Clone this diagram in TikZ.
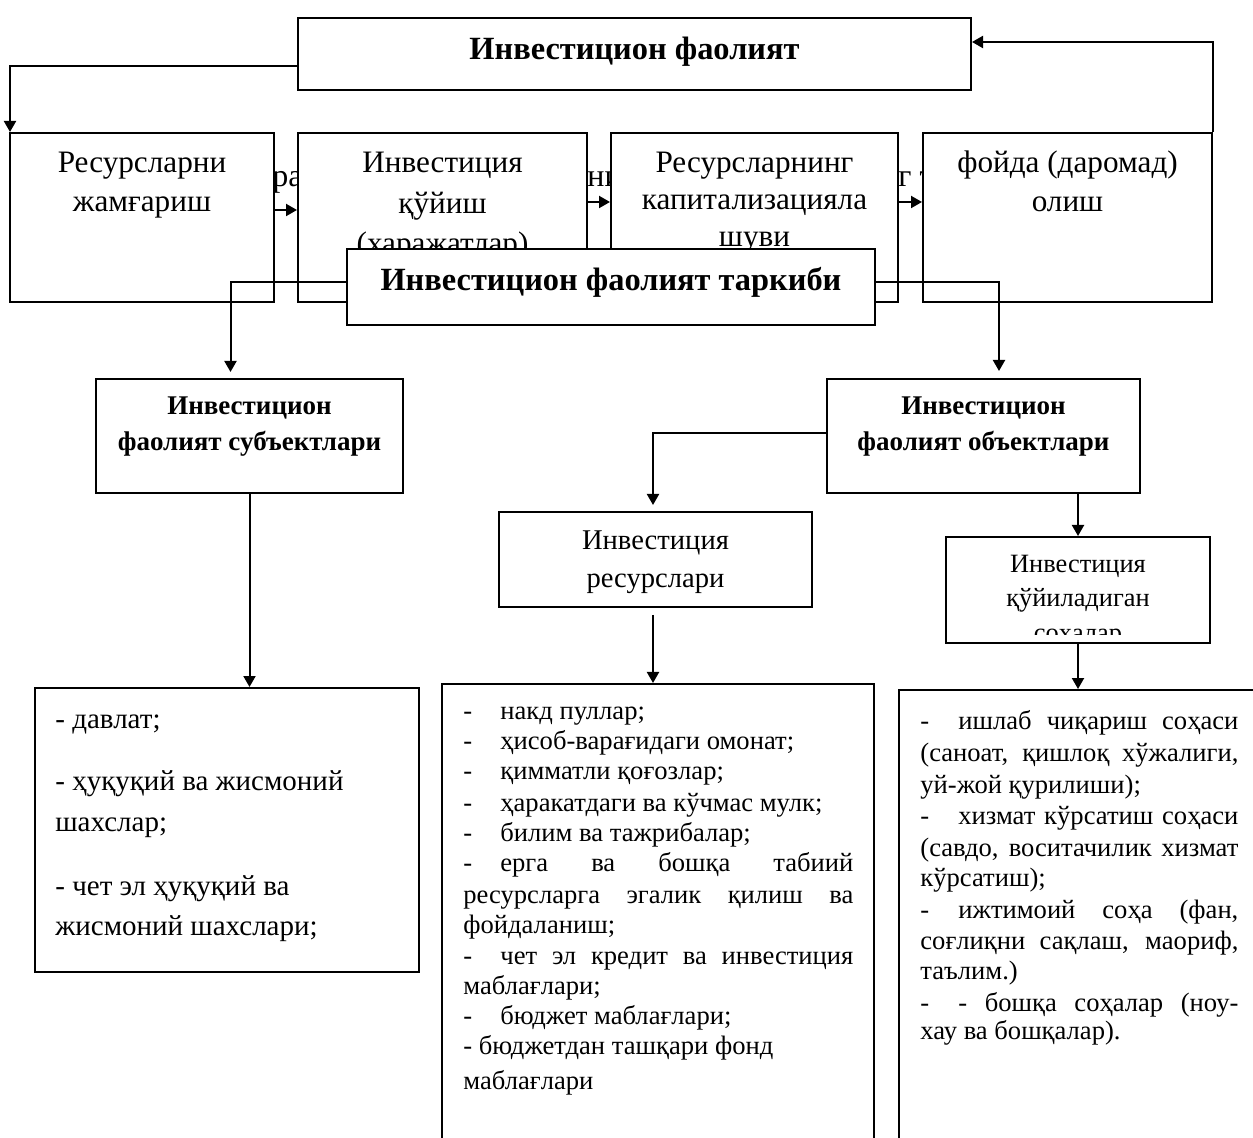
\documentclass[tikz,border=0pt]{standalone}
\usepackage{fontspec}
\setmainfont{Liberation Serif}
\usetikzlibrary{arrows.meta,fit,calc}
\newcommand\lsttabA[1]{\makebox[18.5pt][l]{-}#1}
\newcommand\lsttabB[1]{\makebox[19pt][l]{-}#1}
\begin{document}
\begin{tikzpicture}[x=0.5pt,y=-0.5pt,
  box/.style={draw, line width=1pt, fill=white, inner sep=0pt},
  arr/.style={line width=1pt, -{Triangle[length=5.5pt,width=6pt]}},
  txt/.style={align=center, anchor=base, inner sep=0pt},
  bld/.style={align=center, anchor=base, inner sep=0pt, font=\bfseries\fontsize{16.2}{19}\selectfont},
  sbld/.style={align=center, anchor=base, inner sep=0pt, font=\bfseries\fontsize{13.5}{18}\selectfont},
  lst/.style={anchor=base west, inner sep=0pt},
]
\useasboundingbox (0,0) rectangle (1253,1138);
\fill[white] (0,0) rectangle (1253,1138);
\clip (0,0) rectangle (1253,1138);

% hidden text fragments behind the row of boxes
\node[lst, font=\fontsize{16}{19}\selectfont] (f1) at (272,187) {ра};
\node[lst, font=\fontsize{16}{19}\selectfont] (f2) at (587,187) {ни};
\node[lst, font=\fontsize{16}{19}\selectfont] (f3) at (898,187) {г т};

% row of boxes
\node[box, fit={(10,133) (274,302)}] (b1) {};
\node[box, fit={(298,133) (587,302)}] (b2) {};
\node[box, fit={(611,133) (898,302)}] (b3) {};
\node[box, fit={(923,133) (1212,302)}] (b4) {};
\node[box, fit={(298,18) (971,90)}] (top) {};

% multi-line nodes are placed by the baseline of their last line
\node[bld] (topt) at (634.5,60) {Инвестицион фаолият};
\node[txt, font=\fontsize{15.6}{19.5}\selectfont] (b1t) at (142,212) {Ресурсларни\\жамғариш};
\node[txt, font=\fontsize{15.6}{20.25}\selectfont] (b2t) at (442.5,254) {Инвестиция\\қўйиш\\(харажатлар)};
\node[txt, font=\fontsize{15.6}{18.5}\selectfont] (b3t) at (754.5,247) {Ресурсларнинг\\капитализацияла\\шуви};
\node[txt, font=\fontsize{15.6}{19.5}\selectfont] (b4t) at (1067.5,212) {фойда (даромад)\\олиш};

% structure box
\node[box, fit={(347,249) (875,325)}] (tark) {};
\node[bld] (tarkt) at (611,291) {Инвестицион фаолият таркиби};

% second level
\node[box, fit={(96,379) (403,493)}] (subj) {};
\node[sbld] (subjt) at (249.5,451) {Инвестицион\\фаолият субъектлари};
\node[box, fit={(827,379) (1140,493)}] (obj) {};
\node[sbld] (objt) at (983.5,451) {Инвестицион\\фаолият объектлари};

\node[box, fit={(499,512) (812,607)}] (res) {};
\node[txt, font=\fontsize{14.3}{19}\selectfont] (rest) at (655.5,588) {Инвестиция\\ресурслари};

\node[box, fit={(946,537) (1210,643)}] (soh) {};
\begin{scope}
\clip (946,537) rectangle (1210,635);
\node[txt, font=\fontsize{13.2}{17.5}\selectfont] (soht) at (1078,642) {Инвестиция\\қўйиладиган\\соҳалар};
\end{scope}

% list boxes
\node[box, fit={(35,688) (419,972)}] (l1) {};
\node[box, fit={(442,684) (874,1170)}] (l2) {};
\node[box, fit={(899,690) (1290,1170)}] (l3) {};

\foreach \yy/\ltext [count=\i] in {728/{- давлат;}, 790/{- ҳуқуқий ва жисмоний}, 831/{шахслар;}, 895/{- чет эл ҳуқуқий ва}, 935/{жисмоний шахслари;}}
  \node[lst, font=\fontsize{14.5}{17}\selectfont] (la\i) at (55,\yy) {\ltext};

\foreach \yy/\ltext [count=\i] in {
  719/{\lsttabA{накд пуллар;}},
  749/{\lsttabA{ҳисоб-варағидаги омонат;}},
  779/{\lsttabA{қимматли қоғозлар;}},
  811/{\lsttabA{ҳаракатдаги ва кўчмас мулк;}},
  841/{\lsttabA{билим ва тажрибалар;}},
  871/{\lsttabA{\makebox[176.5pt][s]{ерга ва бошқа табиий}}},
  903/{\makebox[195pt][s]{ресурсларга эгалик қилиш ва}},
  933/{фойдаланиш;},
  964/{\lsttabA{\makebox[176.5pt][s]{чет эл кредит ва инвестиция}}},
  994/{маблағлари;},
  1024/{\lsttabA{бюджет маблағлари;}},
  1054/{- бюджетдан ташқари фонд},
  1089/{маблағлари}}
  \node[lst, font=\fontsize{13.3}{16}\selectfont] (lb\i) at (463,\yy) {\ltext};

\foreach \yy/\ltext [count=\i] in {
  729/{\lsttabB{\makebox[140pt][s]{ишлаб чиқариш соҳаси}}},
  761/{\makebox[159pt][s]{(саноат, қишлоқ хўжалиги,}},
  793/{уй-жой қурилиши);},
  824/{\lsttabB{\makebox[140pt][s]{хизмат кўрсатиш соҳаси}}},
  856/{\makebox[159pt][s]{(савдо, воситачилик хизмат}},
  886/{кўрсатиш);},
  918/{\lsttabB{\makebox[140pt][s]{ижтимоий соҳа (фан,}}},
  949/{\makebox[159pt][s]{соғлиқни сақлаш, маориф,}},
  979/{таълим.)},
  1011/{\lsttabB{\makebox[140pt][s]{- бошқа соҳалар (ноу-}}},
  1039/{хау ва бошқалар).}}
  \node[lst, font=\fontsize{13.3}{16}\selectfont] (lc\i) at (920,\yy) {\ltext};

% connectors
\draw[arr] ($(top.west)+(0,12)$) -| ($(b1.north west)+(1,0)$);
\draw[arr] ($(b1.east)+(0,-7.5)$) -- ($(b2.west)+(0,-7.5)$);
\draw[arr] ($(b2.east)+(0,-15.5)$) -- ($(b3.west)+(0,-15.5)$);
\draw[arr] ($(b3.east)+(0,-15.5)$) -- ($(b4.west)+(0,-15.5)$);
\draw[arr] (b4.north east) |- ($(top.east)+(0,-12)$);
\draw[arr] ($(tark.west)+(0,-5)$) -| ($(subj.north)+(-19,-6)$);
\draw[arr] ($(tark.east)+(0,-5)$) -| ($(obj.north)+(15.5,-7)$);
\draw[arr] ($(obj.west)+(0,-3)$) -| ($(res.north)+(-2.5,-6)$);
\draw[arr] (obj.south -| soh.north) -- (soh.north);
\draw[arr] (subj.south) -- (subj.south |- l1.north);
\coordinate (rs) at ($(res.south)+(-2.5,7)$);
\draw[arr] (rs) -- (rs |- l2.north);
\draw[arr] (soh.south) -- (soh.south |- l3.north);
\end{tikzpicture}
\end{document}
